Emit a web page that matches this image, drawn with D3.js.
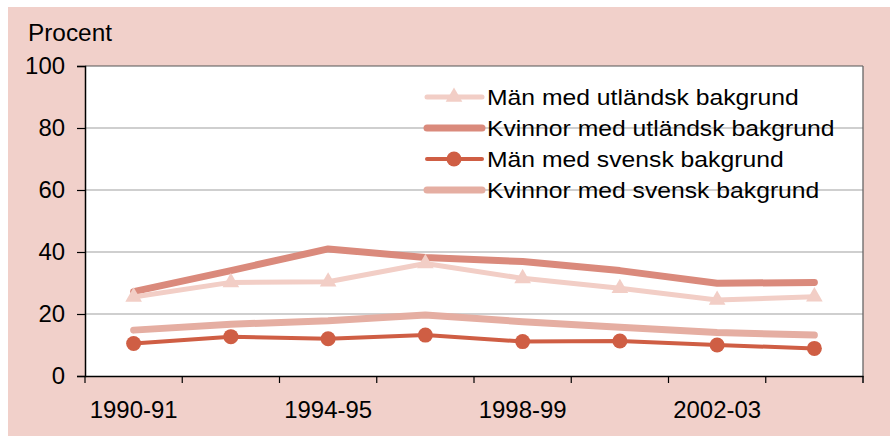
<!DOCTYPE html>
<html><head><meta charset="utf-8">
<script src="https://cdn.jsdelivr.net/npm/d3@7"></script>
<style>body{margin:0;background:#fff;}svg{display:block;font-family:"Liberation Sans",Arial,sans-serif;}</style>
</head><body>
<svg id="c" width="890" height="437"></svg>
<script>
const categories = ["1990-91","1992-93","1994-95","1996-97","1998-99","2000-01","2002-03","2004-05"];
const tickLabels = ["1990-91","1994-95","1998-99","2002-03"];
const yTicks = [0,20,40,60,80,100];
const manUtl = [25.5,30.2,30.4,36.3,31.5,28.3,24.5,25.6];
const kvinnaUtl = [27.2,34.0,41.0,38.2,36.9,34.0,29.9,30.2];
const manSv = [10.5,12.7,12.0,13.2,11.1,11.3,10.0,8.9];
const kvinnaSv = [14.8,16.7,17.8,19.7,17.5,15.7,14.0,13.2];
const seriesNames = ["Män med utländsk bakgrund","Kvinnor med utländsk bakgrund","Män med svensk bakgrund","Kvinnor med svensk bakgrund"];

const series = [
  {name:seriesNames[0], values:manUtl, color:"#F2CEC6", width:5, marker:"triangle"},
  {name:seriesNames[1], values:kvinnaUtl, color:"#DA8A7C", width:7, marker:null},
  {name:seriesNames[2], values:manSv, color:"#CF5E44", width:4, marker:"circle"},
  {name:seriesNames[3], values:kvinnaSv, color:"#E5AEA2", width:7, marker:null}
];

const svg = d3.select("#c");
svg.append("rect").attr("x",8).attr("y",7).attr("width",882).attr("height",429).attr("fill","#F1D0CA");

const L=85,R=863,T=66,B=376;
const x = d3.scaleBand().domain(categories).range([L,R]);
const y = d3.scaleLinear().domain([0,100]).range([B,T]);
const font = 23;
const ff = "Liberation Sans, Arial, sans-serif";

svg.append("rect").attr("x",L).attr("y",T).attr("width",R-L).attr("height",B-T).attr("fill","#fff");

// gridlines
svg.append("g").selectAll("line").data(yTicks.filter(d=>d>0)).join("line")
  .attr("x1",L).attr("x2",R).attr("y1",d=>y(d)).attr("y2",d=>y(d))
  .attr("stroke",d=>d===100?"#555":"#A0A0A0").attr("stroke-width",1.2);
svg.append("line").attr("x1",R).attr("x2",R).attr("y1",T).attr("y2",B+7).attr("stroke","#666").attr("stroke-width",1.3);

// y axis
const ya = svg.append("g").attr("transform",`translate(${L},0)`)
  .call(d3.axisLeft(y).tickValues(yTicks).tickSize(8).tickPadding(12));
ya.select(".domain").attr("stroke","#000").attr("stroke-width",1.5);
ya.selectAll(".tick line").attr("stroke","#000").attr("stroke-width",1.2);
ya.selectAll("text").attr("font-size",font).attr("fill","#000").style("font-family",ff)
  .attr("x",0).attr("transform","translate(-20,0) scale(1.04,1)");

// x axis
const xa = svg.append("g").attr("transform",`translate(0,${B})`)
  .call(d3.axisBottom(x).tickValues(tickLabels).tickSize(0).tickPadding(26));
xa.select(".domain").attr("stroke","#000").attr("stroke-width",1.5);
xa.selectAll("text").attr("font-size",font).attr("fill","#000").style("font-family",ff)
  .attr("transform","scale(1.04,1)");
const bounds = categories.map(c=>x(c)).concat([R]);
svg.append("g").selectAll("line").data(bounds).join("line")
  .attr("x1",d=>d).attr("x2",d=>d).attr("y1",B).attr("y2",B+7).attr("stroke","#000").attr("stroke-width",1.2);

svg.append("text").attr("transform","translate(28,41) scale(1.06,1)").attr("font-size",font).text("Procent");

const cx = c => x(c)+x.bandwidth()/2;
const line = d3.line().x((d,i)=>cx(categories[i])).y(d=>y(d));
const tri = d3.symbol().type(d3.symbolTriangle).size(120);

// draw order: back to front
[3,1,0,2].forEach(k=>{
  const s = series[k];
  const g = svg.append("g");
  g.append("path").datum(s.values).attr("d",line).attr("fill","none")
    .attr("stroke",s.color).attr("stroke-width",s.width).attr("stroke-linejoin","round").attr("stroke-linecap","round");
  if(s.marker==="circle"){
    g.selectAll("circle").data(s.values).join("circle")
      .attr("cx",(d,i)=>cx(categories[i])).attr("cy",d=>y(d)).attr("r",7.5).attr("fill",s.color);
  } else if(s.marker==="triangle"){
    g.selectAll("path.m").data(s.values).join("path").attr("class","m")
      .attr("transform",(d,i)=>`translate(${cx(categories[i])},${y(d)})`).attr("d",tri).attr("fill",s.color);
  }
});

// legend
const lg = svg.append("g");
const rowsY = [97,128,159,190];
series.forEach((s,i)=>{
  const gy = rowsY[i];
  lg.append("line").attr("x1",427).attr("x2",482).attr("y1",gy).attr("y2",gy)
    .attr("stroke",s.color).attr("stroke-width",s.width).attr("stroke-linecap","round");
  if(s.marker==="circle") lg.append("circle").attr("cx",454).attr("cy",gy).attr("r",7.5).attr("fill",s.color);
  if(s.marker==="triangle") lg.append("path").attr("transform",`translate(454,${gy})`).attr("d",tri).attr("fill",s.color);
  lg.append("text").attr("transform",`translate(487,${gy}) scale(1.075,1)`).attr("dy","0.35em")
    .attr("font-size",font).attr("fill","#000").text(s.name);
});
</script>
</body></html>
